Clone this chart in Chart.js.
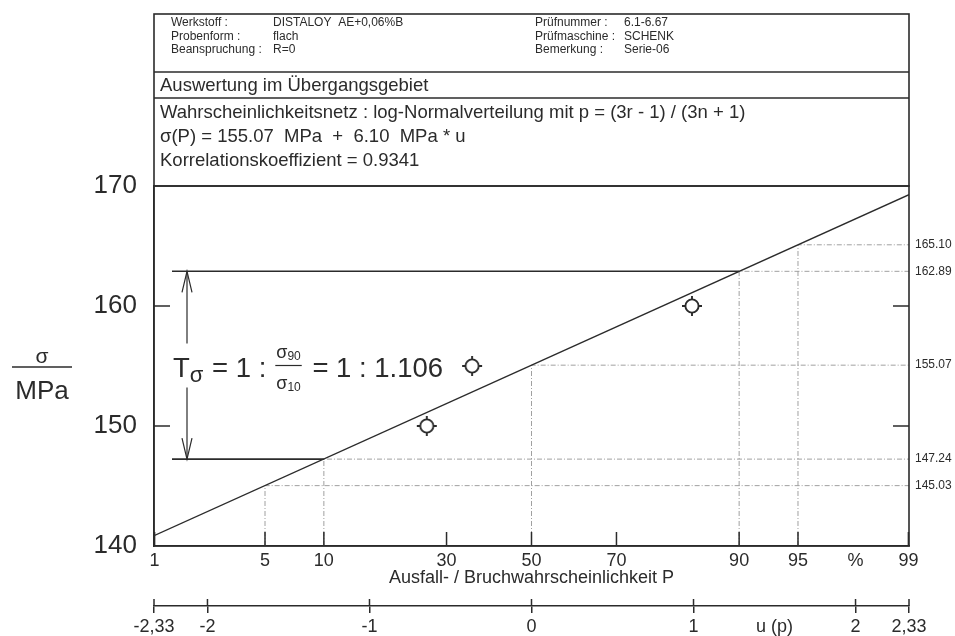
<!DOCTYPE html>
<html>
<head>
<meta charset="utf-8">
<script src="https://cdn.jsdelivr.net/npm/chart.js@4"></script>
<style>
  html, body { margin: 0; padding: 0; background: #fff; }
  canvas { display: block; }
</style>
</head>
<body>
<canvas id="GraficoWahrscheinlichkeit" width="955" height="636"></canvas>
<script>
'use strict'

// Versuchsdaten: Spannungshorizonte und zugehoerige Ausfallwahrscheinlichkeit (%)
const sigmaLevels = [150, 155, 160];
const failureProb = [25.9, 35.7, 83.9];

// Ausgleichsgerade sigma(P) an den Achsenenden (u = -2,33 / 2,33)
const fitU = [-2.33, 2.33];
const fitSigma = [140.86, 169.28];

// Quantile der Geraden
const quantileP = [5, 10, 50, 90, 95];
const quantileSigma = [145.03, 147.24, 155.07, 162.89, 165.10];

// Achsen
const probTicks = [1, 5, 10, 30, 50, 70, 90, 95, 99];
const uTicks = [-2.33, -2, -1, 0, 1, 2, 2.33];
const uTickLabels = ['-2,33', '-2', '-1', '0', '1', '2', '2,33'];
const sigmaTicks = [140, 150, 160, 170];

// Kopf
const headLabelsLeft = ['Werkstoff :', 'Probenform :', 'Beanspruchung :'];
const headValuesLeft = ['DISTALOY  AE+0,06%B', 'flach', 'R=0'];
const headLabelsRight = ['Prüfnummer :', 'Prüfmaschine :', 'Bemerkung :'];
const headValuesRight = ['6.1-6.67', 'SCHENK', 'Serie-06'];
const evalTitle = 'Auswertung im Übergangsgebiet';
const evalLines = [
  'Wahrscheinlichkeitsnetz : log-Normalverteilung mit p = (3r - 1) / (3n + 1)',
  'σ(P) = 155.07  MPa  +  6.10  MPa * u',
  'Korrelationskoeffizient = 0.9341'
];

const ink = '#2b2b2b';
const guide = '#a0a0a0';
const fam = "'Liberation Sans', Arial, Helvetica, sans-serif";
Chart.defaults.font.family = fam;
Chart.defaults.color = ink;

// inverse Normalverteilung (Acklam)
function probit(p) {
  const a = [-39.69683028665376, 220.9460984245205, -275.9285104469687, 138.3577518672690, -30.66479806614716, 2.506628277459239];
  const b = [-54.47609879822406, 161.5858368580409, -155.6989798598866, 66.80131188771972, -13.28068155288572];
  const c = [-0.007784894002430293, -0.3223964580411365, -2.400758277161838, -2.549732539343734, 4.374664141464968, 2.938163982698783];
  const d = [0.007784695709041462, 0.3224671290700398, 2.445134137142996, 3.754408661907416];
  const lo = 0.02425;
  let q, r;
  if (p < lo) {
    q = Math.sqrt(-2 * Math.log(p));
    return (((((c[0]*q + c[1])*q + c[2])*q + c[3])*q + c[4])*q + c[5]) / ((((d[0]*q + d[1])*q + d[2])*q + d[3])*q + 1);
  }
  if (p > 1 - lo) {
    q = Math.sqrt(-2 * Math.log(1 - p));
    return -(((((c[0]*q + c[1])*q + c[2])*q + c[3])*q + c[4])*q + c[5]) / ((((d[0]*q + d[1])*q + d[2])*q + d[3])*q + 1);
  }
  q = p - 0.5;
  r = q * q;
  return (((((a[0]*r + a[1])*r + a[2])*r + a[3])*r + a[4])*r + a[5])*q / (((((b[0]*r + b[1])*r + b[2])*r + b[3])*r + b[4])*r + 1);
}

// Ticks der P-Achse, "%" sitzt zwischen 95 und 99
const pAxisTicks = probTicks.map(p => ({ value: probit(p / 100), label: String(p) }));
pAxisTicks.splice(8, 0, { value: 2, label: '%' });
const uAxisTicks = uTicks.map((v, i) => ({ value: v, label: uTickLabels[i] }));
uAxisTicks.splice(5, 0, { value: 1.5, label: 'u (p)' });

// Messpunkt-Symbol: Kreis mit Strichen
function targetMark() {
  const c = document.createElement('canvas');
  c.width = 24; c.height = 24;
  const g = c.getContext('2d');
  g.strokeStyle = ink;
  g.lineWidth = 1.9;
  g.beginPath(); g.arc(12, 12, 6.6, 0, Math.PI * 2); g.stroke();
  g.beginPath();
  g.moveTo(12, 2); g.lineTo(12, 5.5);
  g.moveTo(12, 18.5); g.lineTo(12, 22);
  g.moveTo(2, 12); g.lineTo(5.5, 12);
  g.moveTo(18.5, 12); g.lineTo(22, 12);
  g.stroke();
  return c;
}

// Hilfslinien: senkrecht von 140 bis zur Geraden, dann waagerecht zum rechten Rand
const guideSets = quantileP.map((p, i) => ({
  data: [
    { x: probit(p / 100), y: sigmaTicks[0] },
    { x: probit(p / 100), y: quantileSigma[i] },
    { x: fitU[1], y: quantileSigma[i] }
  ],
  showLine: true,
  borderColor: guide,
  borderWidth: 1,
  borderDash: [5, 2, 1, 2],
  pointRadius: 0,
  order: 3
}));

function seg(ctx, x1, y1, x2, y2) {
  ctx.beginPath();
  ctx.moveTo(x1, y1);
  ctx.lineTo(x2, y2);
  ctx.stroke();
}

const rahmen = {
  id: 'rahmen',
  afterDraw(chart) {
    const { ctx, chartArea: a, scales } = chart;
    const x = scales.x, y = scales.y, u = scales.u;
    ctx.save();
    ctx.strokeStyle = ink;
    ctx.fillStyle = ink;
    ctx.lineWidth = 1.6;

    // Diagrammrahmen und Kopf
    ctx.strokeRect(a.left, a.top, a.right - a.left, a.bottom - a.top);
    ctx.strokeRect(a.left, 14, a.right - a.left, a.top - 14);
    seg(ctx, a.left, 72, a.right, 72);
    seg(ctx, a.left, 98, a.right, 98);

    ctx.textBaseline = 'alphabetic';
    ctx.textAlign = 'left';
    ctx.font = '12px ' + fam;
    for (let i = 0; i < 3; i++) {
      const by = 26 + i * 13.5;
      ctx.fillText(headLabelsLeft[i], 171, by);
      ctx.fillText(headValuesLeft[i], 273, by);
      ctx.fillText(headLabelsRight[i], 535, by);
      ctx.fillText(headValuesRight[i], 624, by);
    }
    ctx.font = '18.5px ' + fam;
    ctx.fillText(evalTitle, 160, 91);
    evalLines.forEach((t, i) => ctx.fillText(t, 160, 118 + i * 24));

    // Teilstriche nach innen
    ctx.lineWidth = 1.5;
    sigmaTicks.slice(1, -1).forEach(v => {
      const py = y.getPixelForValue(v);
      seg(ctx, a.left, py, a.left + 16, py);
      seg(ctx, a.right - 16, py, a.right, py);
    });
    pAxisTicks.forEach(t => {
      if (t.label === '%') return;
      const px = x.getPixelForValue(t.value);
      seg(ctx, px, a.bottom, px, a.bottom - 14);
    });
    uAxisTicks.forEach(t => {
      if (t.label === 'u (p)') return;
      const px = u.getPixelForValue(t.value);
      seg(ctx, px, u.top, px, u.top - 7);
    });

    // Achsbeschriftung sigma / MPa
    ctx.textAlign = 'center';
    ctx.font = '21px ' + fam;
    ctx.fillText('σ', 42, 363);
    seg(ctx, 12, 367, 72, 367);
    ctx.font = '26px ' + fam;
    ctx.fillText('MPa', 42, 399);

    // Quantilwerte rechts
    ctx.textAlign = 'left';
    ctx.textBaseline = 'middle';
    ctx.font = '12px ' + fam;
    quantileSigma.forEach(v => ctx.fillText(v.toFixed(2), a.right + 6, y.getPixelForValue(v)));

    // Streuspanne T = sigma90 / sigma10
    const i10 = quantileP.indexOf(10), i90 = quantileP.indexOf(90);
    const y10 = y.getPixelForValue(quantileSigma[i10]);
    const y90 = y.getPixelForValue(quantileSigma[i90]);
    const xs = a.left + 18, xa = a.left + 33;
    ctx.lineWidth = 1.6;
    seg(ctx, xs, y90, x.getPixelForValue(probit(0.9)), y90);
    seg(ctx, xs, y10, x.getPixelForValue(probit(0.1)), y10);

    const base = y.getPixelForValue(155) + 10.5;
    ctx.lineWidth = 1.2;
    seg(ctx, xa, y90, xa, base - 33);
    seg(ctx, xa, base + 11, xa, y10);
    ctx.beginPath();
    ctx.moveTo(xa - 5, y90 + 21); ctx.lineTo(xa, y90); ctx.lineTo(xa + 5, y90 + 21);
    ctx.moveTo(xa - 5, y10 - 21); ctx.lineTo(xa, y10); ctx.lineTo(xa + 5, y10 - 21);
    ctx.stroke();

    const ratio = (quantileSigma[i90] / quantileSigma[i10]).toFixed(3);
    ctx.textBaseline = 'alphabetic';
    ctx.textAlign = 'left';
    let tx = a.left + 19;
    ctx.font = '27.5px ' + fam;
    ctx.fillText('T', tx, base);
    tx += ctx.measureText('T').width;
    ctx.font = '22px ' + fam;
    ctx.fillText('σ', tx, base + 5);
    tx += ctx.measureText('σ').width + 1;
    ctx.font = '27.5px ' + fam;
    ctx.fillText(' = 1 :', tx, base);
    tx += ctx.measureText(' = 1 :').width + 10;
    // Bruch sigma90 / sigma10
    ctx.font = '18px ' + fam;
    const sw = ctx.measureText('σ').width;
    ctx.font = '12px ' + fam;
    const nw = ctx.measureText('90').width;
    const fw = sw + nw;
    ctx.font = '18px ' + fam;
    ctx.fillText('σ', tx, base - 19);
    ctx.fillText('σ', tx, base + 12);
    ctx.font = '12px ' + fam;
    ctx.fillText('90', tx + sw, base - 17);
    ctx.fillText('10', tx + sw, base + 14);
    ctx.lineWidth = 1.2;
    seg(ctx, tx - 1, base - 11, tx + fw + 1, base - 11);
    tx += fw + 4;
    ctx.font = '27.5px ' + fam;
    ctx.fillText(' = 1 : ' + ratio, tx, base);

    ctx.restore();
  }
};

const divGrafico = document.querySelector('#GraficoWahrscheinlichkeit');

const config = {
  type: 'scatter',
  data: {
    datasets: [
      {
        label: 'Messwerte',
        data: sigmaLevels.map((s, i) => ({ x: probit(failureProb[i] / 100), y: s })),
        pointStyle: targetMark(),
        pointRadius: 10,
        order: 1
      },
      {
        label: 'Ausgleichsgerade',
        data: fitU.map((v, i) => ({ x: v, y: fitSigma[i] })),
        showLine: true,
        borderColor: ink,
        borderWidth: 1.4,
        pointRadius: 0,
        order: 2
      },
      ...guideSets
    ]
  },
  options: {
    responsive: false,
    animation: false,
    layout: { padding: { top: 186, right: 46, left: 0, bottom: 0 } },
    plugins: {
      legend: { display: false },
      tooltip: { enabled: false }
    },
    scales: {
      x: {
        type: 'linear',
        position: 'bottom',
        min: fitU[0],
        max: fitU[1],
        afterFit: s => { s.height = 60; },
        afterBuildTicks: s => { s.ticks = pAxisTicks.map(t => ({ value: t.value })); },
        ticks: {
          autoSkip: false,
          maxRotation: 0,
          padding: 4,
          color: ink,
          font: { size: 18 },
          callback: (v, i) => pAxisTicks[i].label
        },
        grid: { display: false, drawTicks: false },
        border: { display: true, color: ink, width: 1.6 },
        title: {
          display: true,
          text: 'Ausfall- / Bruchwahrscheinlichkeit P',
          color: ink,
          font: { size: 18 },
          padding: { top: 0, bottom: 17 }
        }
      },
      u: {
        type: 'linear',
        position: 'bottom',
        weight: 1,
        min: fitU[0],
        max: fitU[1],
        afterFit: s => { s.height = 30; },
        afterBuildTicks: s => { s.ticks = uAxisTicks.map(t => ({ value: t.value })); },
        ticks: {
          autoSkip: false,
          maxRotation: 0,
          padding: 3,
          color: ink,
          font: { size: 18 },
          callback: (v, i) => uAxisTicks[i].label
        },
        grid: {
          display: true,
          drawOnChartArea: false,
          drawTicks: true,
          tickLength: 7,
          lineWidth: 1.5,
          color: c => (c.tick && c.tick.value === 1.5) ? 'rgba(0,0,0,0)' : ink
        },
        border: { display: true, color: ink, width: 1.5 }
      },
      y: {
        type: 'linear',
        min: sigmaTicks[0],
        max: sigmaTicks[sigmaTicks.length - 1],
        afterFit: s => { s.width = 154; },
        afterBuildTicks: s => { s.ticks = sigmaTicks.map(v => ({ value: v })); },
        ticks: { padding: 17, color: ink, font: { size: 26 } },
        grid: { display: false, drawTicks: false },
        border: { display: true, color: ink, width: 1.6 }
      }
    }
  },
  plugins: [rahmen]
};

const GraficoWahrscheinlichkeit = new Chart(divGrafico, config);
</script>
</body>
</html>
